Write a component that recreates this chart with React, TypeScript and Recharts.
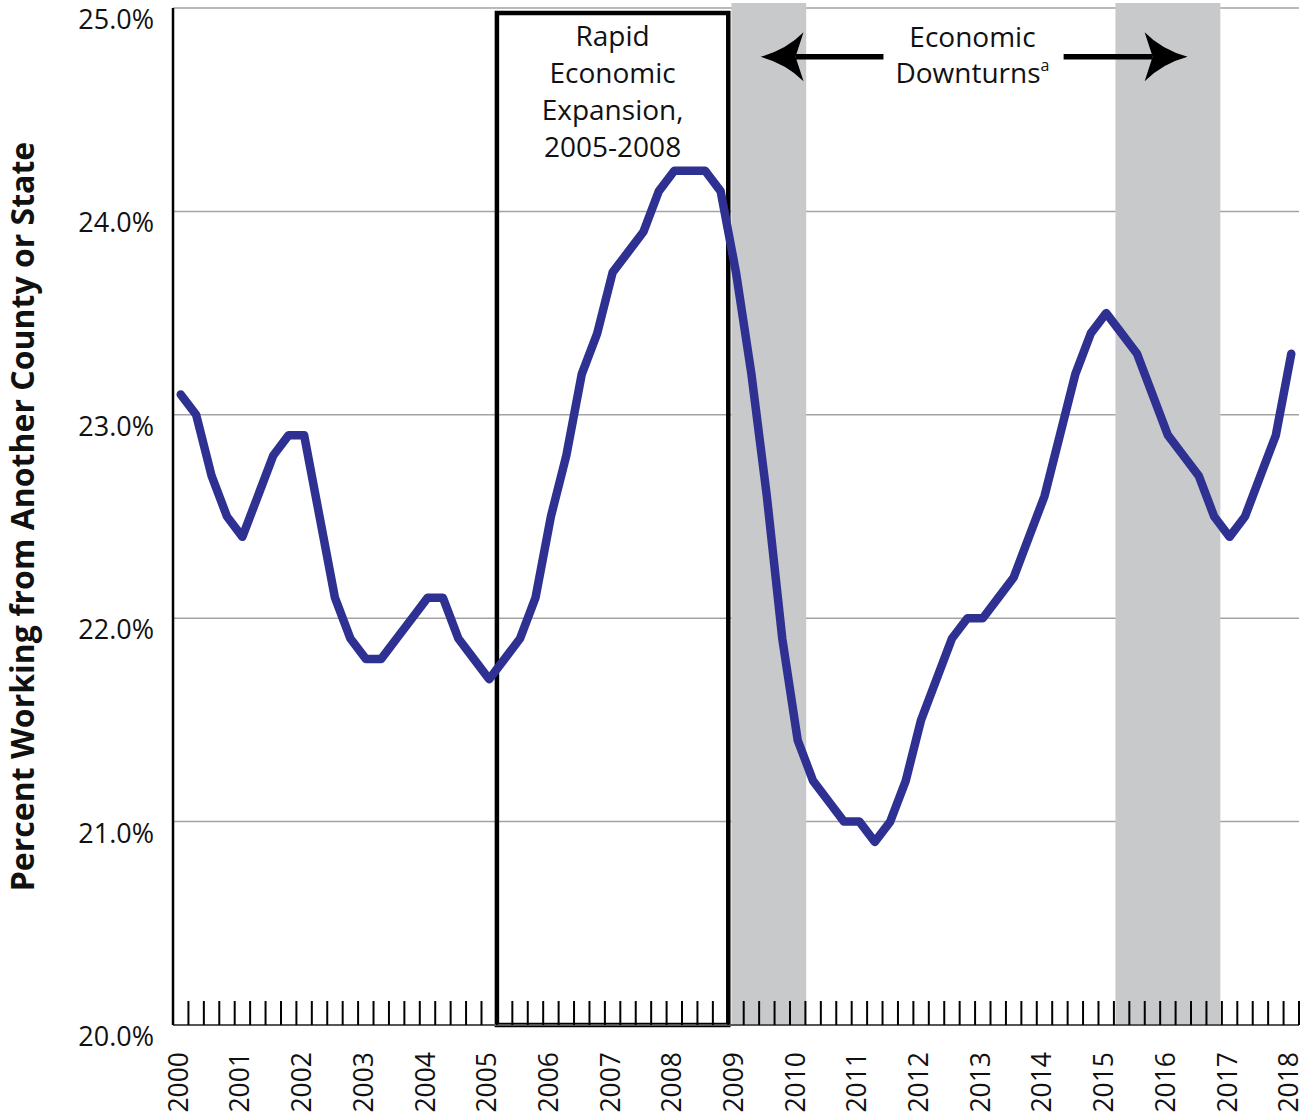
import React from "react";
import {
  LineChart,
  Line,
  XAxis,
  YAxis,
  CartesianGrid,
  ReferenceArea,
  ReferenceLine,
  ReferenceDot,
} from "recharts";

const FONT = "'Open Sans', 'Noto Sans', sans-serif";

// quarterly, 2000 Q1 .. 2018 Q1 (index 0 = 2000 Q1)
const yearLabels = [
  "2000", "2001", "2002", "2003", "2004", "2005", "2006", "2007", "2008", "2009",
  "2010", "2011", "2012", "2013", "2014", "2015", "2016", "2017", "2018",
];

const pctValues = [
  23.1, 23.0, 22.7, 22.5, 22.4, 22.6, 22.8, 22.9, 22.9, 22.5,
  22.1, 21.9, 21.8, 21.8, 21.9, 22.0, 22.1, 22.1, 21.9, 21.8,
  21.7, 21.8, 21.9, 22.1, 22.5, 22.8, 23.2, 23.4, 23.7, 23.8,
  23.9, 24.1, 24.2, 24.2, 24.2, 24.1, 23.7, 23.2, 22.6, 21.9,
  21.4, 21.2, 21.1, 21.0, 21.0, 20.9, 21.0, 21.2, 21.5, 21.7,
  21.9, 22.0, 22.0, 22.1, 22.2, 22.4, 22.6, 22.9, 23.2, 23.4,
  23.5, 23.4, 23.3, 23.1, 22.9, 22.8, 22.7, 22.5, 22.4, 22.5,
  22.7, 22.9, 23.3,
];

const yTicks = [20, 21, 22, 23, 24, 25];

// spans in quarter-index units
const expansion = [20.5, 35.5];
const downturns = [
  [35.7, 40.55],
  [60.6, 67.4],
];

const data = pctValues.map((v, i) => ({ q: i, pct: v }));
const quarterTicks = Array.from({ length: pctValues.length + 1 }, (_, k) => k - 0.5);
const yearTicks = yearLabels.map((_, i) => i * 4);
const xDomain = [-0.5, pctValues.length - 0.5];

const YTick = ({ x, y, payload }: any) => (
  <text x={x} y={y + 21} textAnchor="end" fontSize={27} fontFamily={FONT} fill="#111">
    {Number(payload.value).toFixed(1)}%
  </text>
);

const QuarterTick = ({ x, y }: any) => (
  <line x1={x} y1={y} x2={x} y2={y - 24} stroke="#000" strokeWidth={2} />
);

const YearTick = ({ x, y, payload }: any) => {
  const px = x + 7;
  const py = y + 26;
  return (
    <text
      x={px}
      y={py}
      transform={`rotate(-90, ${px}, ${py})`}
      textAnchor="end"
      fontSize={26.5}
      fontFamily={FONT}
      fill="#111"
    >
      {yearLabels[Math.round(payload.value / 4)]}
    </text>
  );
};

const Arrow = (props: any) => {
  const { x1, y1, x2 } = props;
  const y = y1;
  const d = x2 > x1 ? 1 : -1;
  const L = 43;
  const W = 24.5;
  const back = x2 - d * L;
  const notch = x2 - d * (L - 8);
  const ctrl = x2 - d * L * 0.6;
  return (
    <g>
      <line x1={x1} y1={y} x2={notch} y2={y} stroke="#000" strokeWidth={5.5} />
      <path
        d={`M${x2},${y} Q${ctrl},${y - 7} ${back},${y - W} L${notch},${y} L${back},${y + W} Q${ctrl},${y + 7} ${x2},${y} Z`}
        fill="#000"
      />
    </g>
  );
};

const ExpansionLabel = ({ viewBox }: any) => {
  const cx = viewBox.x + viewBox.width / 2;
  const top = viewBox.y;
  const lines = ["Rapid", "Economic", "Expansion,", "2005-2008"];
  return (
    <g>
      {lines.map((t, i) => (
        <text
          key={t}
          x={cx}
          y={top + 33 + i * 37}
          textAnchor="middle"
          fontSize={28}
          fontFamily={FONT}
          fill="#111"
        >
          {t}
        </text>
      ))}
    </g>
  );
};

const DownturnLabel = ({ viewBox }: any) => {
  const cx = viewBox.x;
  const cy = viewBox.y;
  return (
    <g fontSize={28} fontFamily={FONT} fill="#111">
      <text x={cx} y={cy - 2} textAnchor="middle">
        Economic
      </text>
      <text x={cx} y={cy + 34} textAnchor="middle">
        Downturns
        <tspan fontSize={16} dy={-12}>
          a
        </tspan>
      </text>
    </g>
  );
};

const YTitle = ({ viewBox }: any) => {
  const cy = viewBox.y + viewBox.height / 2;
  const x = 34;
  return (
    <text
      x={x}
      y={cy}
      transform={`rotate(-90, ${x}, ${cy})`}
      textAnchor="middle"
      fontSize={32}
      fontWeight={700}
      fontFamily={FONT}
      fill="#111"
    >
      Percent Working from Another County or State
    </text>
  );
};

export default function App() {
  return (
    <div style={{ position: "absolute", left: 0, top: 0, background: "#fff" }}>
      <LineChart
        width={1313}
        height={1120}
        data={data}
        margin={{ top: 8, right: 14, bottom: 0, left: 0 }}
      >
        <XAxis
          xAxisId="q"
          dataKey="q"
          type="number"
          domain={xDomain}
          ticks={quarterTicks}
          interval={0}
          height={1}
          tickSize={0}
          tickMargin={0}
          tickLine={false}
          tick={<QuarterTick />}
          axisLine={{ stroke: "#555", strokeWidth: 2 }}
        />
        <XAxis
          xAxisId="yr"
          dataKey="q"
          type="number"
          domain={xDomain}
          ticks={yearTicks}
          interval={0}
          height={94}
          tickSize={0}
          tickMargin={0}
          axisLine={false}
          tickLine={false}
          tick={<YearTick />}
        />
        <YAxis
          type="number"
          domain={[20, 25]}
          ticks={yTicks}
          interval={0}
          width={173}
          tickSize={0}
          tickMargin={19}
          tickLine={false}
          axisLine={{ stroke: "#000", strokeWidth: 2.5 }}
          tick={<YTick />}
          label={{ content: YTitle }}
        />
        {downturns.map(([a, b], i) => (
          <ReferenceArea
            key={i}
            xAxisId="q"
            x1={a}
            x2={b}
            y1={20}
            y2={25.025}
            ifOverflow="visible"
            fill="#c8c9cb"
            fillOpacity={1}
            stroke="none"
          />
        ))}
        <CartesianGrid xAxisId="q" vertical={false} stroke="#a3a3a3" strokeWidth={1.5} />
        <Line
          xAxisId="q"
          type="linear"
          dataKey="pct"
          stroke="#2e3192"
          strokeWidth={8.5}
          strokeLinejoin="round"
          strokeLinecap="round"
          dot={false}
          activeDot={false}
          isAnimationActive={false}
        />
        <ReferenceArea
          xAxisId="q"
          x1={expansion[0]}
          x2={expansion[1]}
          y1={20}
          y2={24.975}
          fill="none"
          stroke="#000"
          strokeWidth={4.5}
          label={<ExpansionLabel />}
        />
        <ReferenceLine
          xAxisId="q"
          segment={[
            { x: 45.56, y: 24.76 },
            { x: 37.59, y: 24.76 },
          ]}
          shape={Arrow}
        />
        <ReferenceLine
          xAxisId="q"
          segment={[
            { x: 57.24, y: 24.76 },
            { x: 65.28, y: 24.76 },
          ]}
          shape={Arrow}
        />
        <ReferenceDot
          xAxisId="q"
          x={51.33}
          y={24.8}
          r={0}
          fill="none"
          stroke="none"
          label={<DownturnLabel />}
        />
      </LineChart>
    </div>
  );
}
